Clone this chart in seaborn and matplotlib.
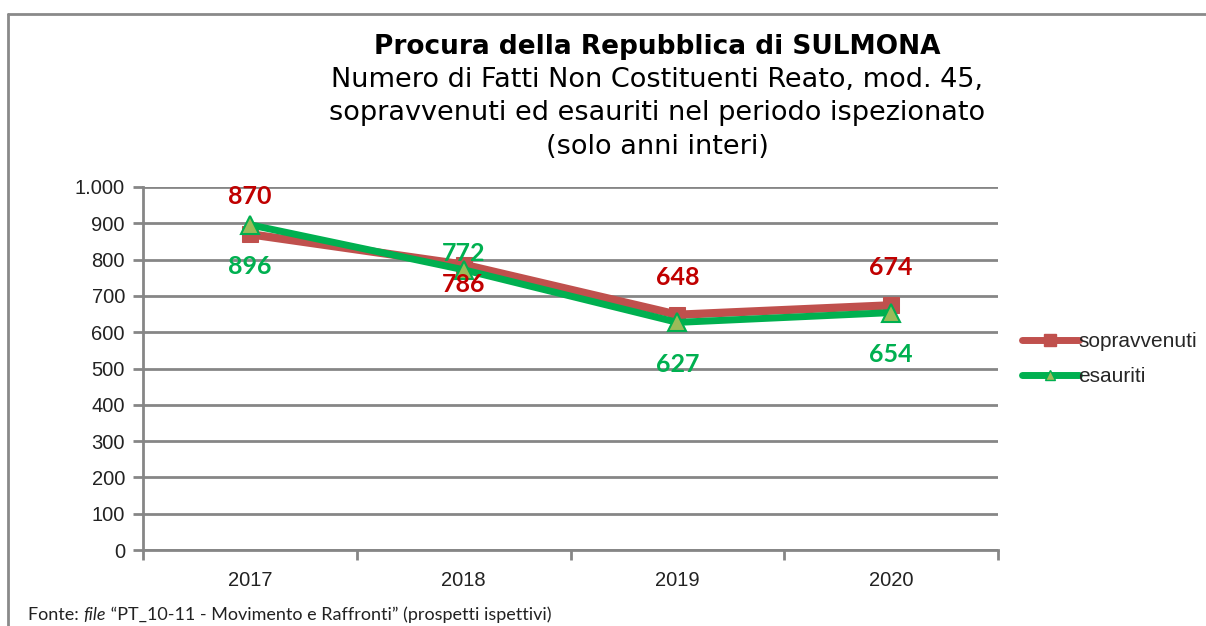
import matplotlib
matplotlib.use("Agg")
import matplotlib.pyplot as plt
import matplotlib.ticker as mticker
from matplotlib.lines import Line2D
import pandas as pd
import seaborn as sns

# dati
anni = ["2017", "2018", "2019", "2020"]
sopravvenuti = [870, 786, 648, 674]
esauriti = [896, 772, 627, 654]

# etichette: sopra (True) o sotto (False) il punto
sopra_sopr = [True, False, True, True]
sopra_esau = [False, True, False, False]

ROSSO = "#C0504D"
ROSSO_TXT = "#C00000"
VERDE = "#00B050"
VERDE_TRI = "#9BBB59"
GRIGIO = "#868686"

df = pd.DataFrame({"anno": anni, "sopravvenuti": sopravvenuti, "esauriti": esauriti})

sns.set_style("white")
plt.rcParams["font.family"] = ["Liberation Sans", "DejaVu Sans"]

fig = plt.figure(figsize=(12.06, 6.26), dpi=100)
ax = fig.add_axes([143 / 1206, 1 - 550 / 626, 855 / 1206, 363 / 626])

sns.lineplot(data=df, x="anno", y="sopravvenuti", ax=ax, color=ROSSO, linewidth=6,
             marker="s", markersize=12, markerfacecolor=ROSSO, markeredgecolor=ROSSO, zorder=3)
sns.lineplot(data=df, x="anno", y="esauriti", ax=ax, color=VERDE, linewidth=5,
             marker="^", markersize=13, markerfacecolor=VERDE_TRI, markeredgecolor=VERDE,
             markeredgewidth=1.5, zorder=4)

lab_font = dict(family=["Lato", "DejaVu Sans"], fontsize=18, fontweight="bold", ha="center", va="center")
for i, (v, up) in enumerate(zip(sopravvenuti, sopra_sopr)):
    ax.annotate(str(v), (i, v), xytext=(0, 27 if up else -14), textcoords="offset points",
                color=ROSSO_TXT, zorder=6, **lab_font)
for i, (v, up) in enumerate(zip(esauriti, sopra_esau)):
    ax.annotate(str(v), (i, v), xytext=(0, 12 if up else -30), textcoords="offset points",
                color=VERDE, zorder=6, **lab_font)

ax.set_xlim(-0.5, 3.5)
ax.set_ylim(0, 1000)
ax.yaxis.set_major_locator(mticker.MultipleLocator(100))
ax.yaxis.set_major_formatter(mticker.FuncFormatter(lambda v, p: f"{int(v):,}".replace(",", ".")))
ax.grid(axis="y", color=GRIGIO, linewidth=2)
ax.set_axisbelow(True)
ax.set_xlabel("")
ax.set_ylabel("")

ax.set_xticks(range(len(anni)))
ax.set_xticklabels(anni)
ax.set_xticks([-0.5, 0.5, 1.5, 2.5, 3.5], minor=True)
ax.tick_params(axis="x", which="major", length=0, pad=15, labelsize=14.5, labelcolor="#222222")
ax.tick_params(axis="x", which="minor", length=7, width=2, color=GRIGIO)
ax.tick_params(axis="y", length=7, width=2, color=GRIGIO, pad=6, labelsize=14.5, labelcolor="#222222")
ax.yaxis.set_ticks_position("left")
ax.xaxis.set_ticks_position("bottom")

for side in ["top", "right"]:
    ax.spines[side].set_visible(False)
for side in ["left", "bottom"]:
    ax.spines[side].set_color(GRIGIO)
    ax.spines[side].set_linewidth(2)

# legenda
handles = [
    Line2D([], [], color=ROSSO, linewidth=5, marker="s", markersize=9, markerfacecolor=ROSSO),
    Line2D([], [], color=VERDE, linewidth=5, marker="^", markersize=7,
           markerfacecolor=VERDE_TRI, markeredgecolor=VERDE),
]
fig.legend(handles, ["sopravvenuti", "esauriti"], loc="center left",
           bbox_to_anchor=(1014 / 1206, 1 - 359 / 626), frameon=False, fontsize=15,
           handlelength=2.7, handletextpad=0.0, labelspacing=0.75, borderaxespad=0)

# titolo
fig.text(657 / 1206, 1 - 47 / 626, "Procura della Repubblica di SULMONA", ha="center", va="center",
         fontsize=19, fontweight="bold", family=["DejaVu Sans"], color="black")
sub = ["Numero di Fatti Non Costituenti Reato, mod. 45,",
       "sopravvenuti ed esauriti nel periodo ispezionato",
       "(solo anni interi)"]
for k, riga in enumerate(sub):
    fig.text(657 / 1206, 1 - (80 + 33.5 * k) / 626, riga, ha="center", va="center",
             fontsize=19.5, family=["DejaVu Sans"], color="black")

# cornice
fig.add_artist(Line2D([8 / 1206, 8 / 1206], [0, 1 - 14 / 626], transform=fig.transFigure,
                      color="#8A8A8A", linewidth=2))
fig.add_artist(Line2D([8 / 1206, 1], [1 - 14 / 626, 1 - 14 / 626], transform=fig.transFigure,
                      color="#8A8A8A", linewidth=2))

# fonte
fig.canvas.draw()
r = fig.canvas.get_renderer()
fx, fy = 28 / 1206, 6 / 626
fonte_font = dict(family=["Lato", "DejaVu Sans"], fontsize=13, va="baseline", color="#222222")
parti = [("Fonte: ", "normal"), ("file", "italic"), (" \u201cPT_10-11 - Movimento e Raffronti\u201d (prospetti ispettivi)", "normal")]
for testo, stile in parti:
    t = fig.text(fx, fy, testo, style=stile, **fonte_font)
    bb = t.get_window_extent(renderer=r)
    fx += bb.width / 1206

fig.savefig("out.png", dpi=100)
